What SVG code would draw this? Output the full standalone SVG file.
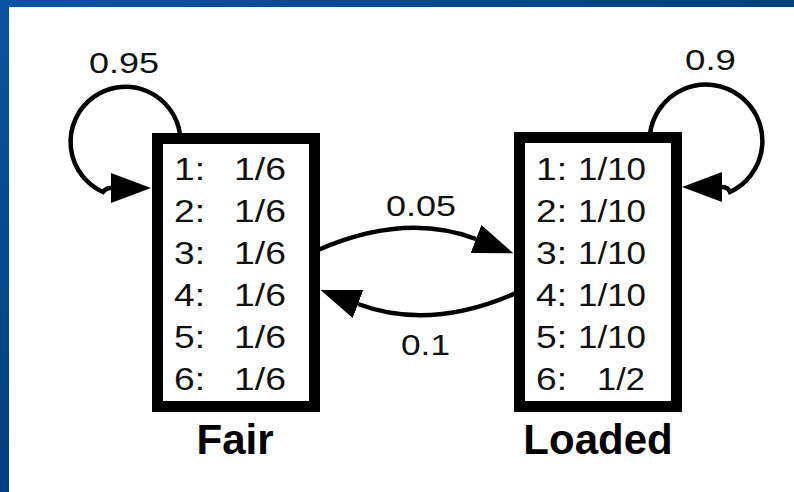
<svg xmlns="http://www.w3.org/2000/svg" width="794" height="492" viewBox="0 0 794 492">
  <defs>
    <linearGradient id="frameTop" x1="0" y1="0" x2="1" y2="0">
      <stop offset="0" stop-color="#0b53a2"/>
      <stop offset="1" stop-color="#00407f"/>
    </linearGradient>
    <linearGradient id="frameLeft" x1="0" y1="0" x2="0" y2="1">
      <stop offset="0" stop-color="#0b53a2"/>
      <stop offset="1" stop-color="#004080"/>
    </linearGradient>
    <marker id="head" viewBox="0 0 40 30" refX="0" refY="15" markerWidth="40" markerHeight="30" markerUnits="userSpaceOnUse" orient="auto">
      <path d="M0 0 L40 15 L0 30 Z" fill="#000"/>
    </marker>
    <style>
      .box { fill: #fff; stroke: #000; stroke-width: 11; }
      .edge { fill: none; stroke: #000; stroke-width: 4.5; marker-end: url(#head); }
      .t { font-family: "Liberation Sans", Arial, Helvetica, sans-serif; font-size: 31px; fill: #111; }
      .lbl { font-family: "Liberation Sans", Arial, Helvetica, sans-serif; font-size: 30px; fill: #111; }
      .name { font-family: "Liberation Sans", Arial, Helvetica, sans-serif; font-size: 42px; font-weight: bold; fill: #000; text-anchor: middle; }
    </style>
  </defs>

  <rect width="794" height="492" fill="#fff"/>
  <!-- slide frame -->
  <rect x="0" y="0" width="794" height="7" fill="url(#frameTop)"/>
  <rect x="0" y="0" width="9" height="492" fill="url(#frameLeft)"/>

  <g id="edges">
    <!-- Fair self-loop -->
    <path class="edge" d="M180 134 A55 55 0 1 0 103 192 Q106 188 111 188"/>
    <!-- Loaded self-loop -->
    <path class="edge" d="M650 134 A56.4 56.4 0 1 1 730 192 Q728 187 722 187"/>
    <!-- Fair to Loaded -->
    <path class="edge" d="M318 250 Q405 212 476 239"/>
    <!-- Loaded to Fair -->
    <path class="edge" d="M516 293 Q430 331 358 304"/>
    <text class="lbl" x="89" y="73" textLength="70" lengthAdjust="spacingAndGlyphs">0.95</text>
    <text class="lbl" x="685" y="70" textLength="51" lengthAdjust="spacingAndGlyphs">0.9</text>
    <text class="lbl" x="386" y="216" textLength="70" lengthAdjust="spacingAndGlyphs">0.05</text>
    <text class="lbl" x="401" y="355" textLength="49" lengthAdjust="spacingAndGlyphs">0.1</text>
  </g>

  <g id="fair">
    <rect class="box" x="157.5" y="138.5" width="157" height="268"/>
    <text class="t" x="174" y="180" textLength="31" lengthAdjust="spacingAndGlyphs">1:</text>
    <text class="t" x="234" y="180" textLength="52" lengthAdjust="spacingAndGlyphs">1/6</text>
    <text class="t" x="174" y="222" textLength="31" lengthAdjust="spacingAndGlyphs">2:</text>
    <text class="t" x="234" y="222" textLength="52" lengthAdjust="spacingAndGlyphs">1/6</text>
    <text class="t" x="174" y="264" textLength="31" lengthAdjust="spacingAndGlyphs">3:</text>
    <text class="t" x="234" y="264" textLength="52" lengthAdjust="spacingAndGlyphs">1/6</text>
    <text class="t" x="174" y="306" textLength="31" lengthAdjust="spacingAndGlyphs">4:</text>
    <text class="t" x="234" y="306" textLength="52" lengthAdjust="spacingAndGlyphs">1/6</text>
    <text class="t" x="174" y="348" textLength="31" lengthAdjust="spacingAndGlyphs">5:</text>
    <text class="t" x="234" y="348" textLength="52" lengthAdjust="spacingAndGlyphs">1/6</text>
    <text class="t" x="174" y="390" textLength="31" lengthAdjust="spacingAndGlyphs">6:</text>
    <text class="t" x="234" y="390" textLength="52" lengthAdjust="spacingAndGlyphs">1/6</text>
    <text class="name" x="235" y="454">Fair</text>
  </g>

  <g id="loaded">
    <rect class="box" x="519.5" y="137.5" width="157" height="269"/>
    <text class="t" x="536" y="180" textLength="31" lengthAdjust="spacingAndGlyphs">1:</text>
    <text class="t" x="578" y="180" textLength="68" lengthAdjust="spacingAndGlyphs">1/10</text>
    <text class="t" x="536" y="222" textLength="31" lengthAdjust="spacingAndGlyphs">2:</text>
    <text class="t" x="578" y="222" textLength="68" lengthAdjust="spacingAndGlyphs">1/10</text>
    <text class="t" x="536" y="264" textLength="31" lengthAdjust="spacingAndGlyphs">3:</text>
    <text class="t" x="578" y="264" textLength="68" lengthAdjust="spacingAndGlyphs">1/10</text>
    <text class="t" x="536" y="306" textLength="31" lengthAdjust="spacingAndGlyphs">4:</text>
    <text class="t" x="578" y="306" textLength="68" lengthAdjust="spacingAndGlyphs">1/10</text>
    <text class="t" x="536" y="348" textLength="31" lengthAdjust="spacingAndGlyphs">5:</text>
    <text class="t" x="578" y="348" textLength="68" lengthAdjust="spacingAndGlyphs">1/10</text>
    <text class="t" x="536" y="390" textLength="31" lengthAdjust="spacingAndGlyphs">6:</text>
    <text class="t" x="597" y="390" textLength="48" lengthAdjust="spacingAndGlyphs">1/2</text>
    <text class="name" x="598" y="454">Loaded</text>
  </g>
</svg>
